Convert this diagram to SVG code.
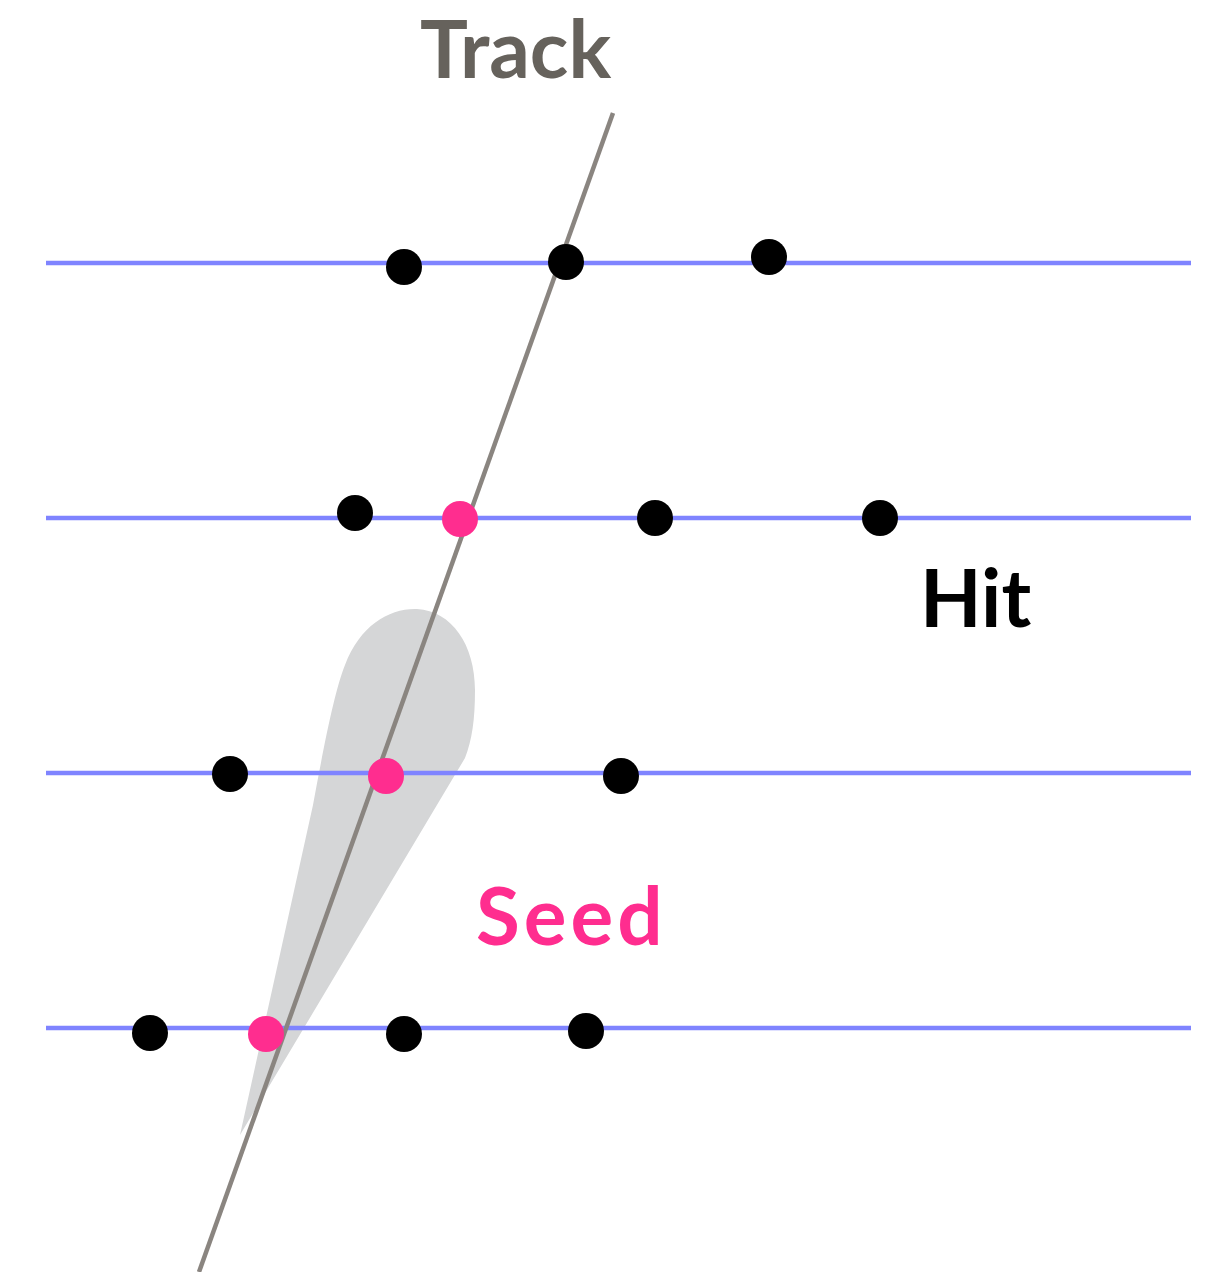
<svg xmlns="http://www.w3.org/2000/svg" width="1220" height="1272" viewBox="0 0 1220 1272">
<style>
.layer{stroke:#7f84ff;stroke-width:4.5}
.hit{fill:#000}
.seed{fill:#ff2d8f}
.lbl{font-family:Lato,"Open Sans","Liberation Sans",sans-serif;font-weight:bold;font-size:80px}
</style>
<rect width="1220" height="1272" fill="#fff"/>
<g id="cone"><path d="M240,1135 L313,805 C325,740 335,690 345,665 C360,625 390,608 417,609 C452,611 475,645 475,690 C475,720 472,740 465,758 Z" fill="#d5d6d7"/></g>
<g id="layers">
<line class="layer" x1="46" y1="263" x2="1191" y2="263"/>
<line class="layer" x1="46" y1="518" x2="1191" y2="518"/>
<line class="layer" x1="46" y1="773" x2="1191" y2="773"/>
<line class="layer" x1="46" y1="1028" x2="1191" y2="1028"/>
</g>
<g id="connectors"><line id="track" x1="613" y1="113" x2="199" y2="1272" stroke="#8a8580" stroke-width="4.5"/></g>
<g id="hits">
<circle class="hit" cx="404" cy="267" r="18"/>
<circle class="hit" cx="566" cy="262" r="18"/>
<circle class="hit" cx="769" cy="257" r="18"/>
<circle class="hit" cx="355" cy="513" r="18"/>
<circle class="hit" cx="655" cy="518" r="18"/>
<circle class="hit" cx="880" cy="518" r="18"/>
<circle class="hit" cx="230" cy="774" r="18"/>
<circle class="hit" cx="621" cy="776" r="18"/>
<circle class="hit" cx="150" cy="1033" r="18"/>
<circle class="hit" cx="404" cy="1034" r="18"/>
<circle class="hit" cx="586" cy="1031" r="18"/>
</g>
<g id="seeds">
<circle class="seed" cx="460" cy="519" r="18"/>
<circle class="seed" cx="386" cy="776" r="18"/>
<circle class="seed" cx="266" cy="1034" r="18"/>
</g>
<g id="labels">
<text class="lbl" x="420" y="78" fill="#66625c">Track</text>
<text class="lbl" x="920" y="627" fill="#000">Hit</text>
<text class="lbl" x="476" y="945" fill="#ff2d8f" letter-spacing="4">Seed</text>
</g>
</svg>
